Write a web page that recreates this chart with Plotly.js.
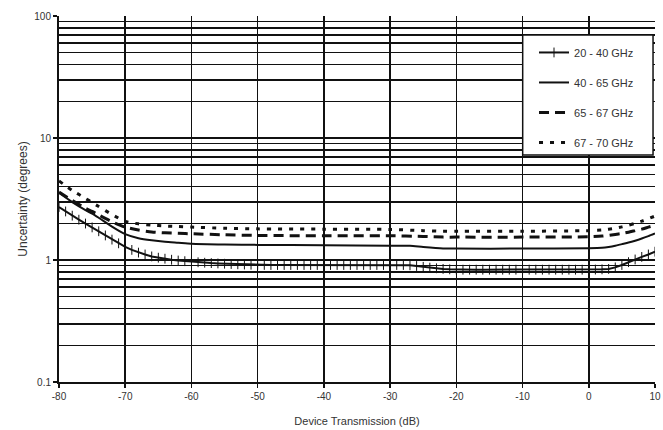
<!DOCTYPE html>
<html>
<head>
<meta charset="utf-8">
<script src="https://cdn.plot.ly/plotly-3.0.1.min.js"></script>
<style>html,body{margin:0;padding:0;background:#fff}#chart{width:663px;height:430px}</style>
</head>
<body>
<div id="chart"></div>
<script>
// Series names
const seriesNames = ["20 - 40 GHz", "40 - 65 GHz", "65 - 67 GHz", "67 - 70 GHz"];

// 20 - 40 GHz: one point per dB (tick-marked line)
const x2040 = [-80,-79,-78,-77,-76,-75,-74,-73,-72,-71,-70,-69,-68,-67,-66,-65,-64,-63,-62,-61,-60,-59,-58,-57,-56,-55,-54,-53,-52,-51,-50,-49,-48,-47,-46,-45,-44,-43,-42,-41,-40,-39,-38,-37,-36,-35,-34,-33,-32,-31,-30,-29,-28,-27,-26,-25,-24,-23,-22,-21,-20,-19,-18,-17,-16,-15,-14,-13,-12,-11,-10,-9,-8,-7,-6,-5,-4,-3,-2,-1,0,1,2,3,4,5,6,7,8,9,10];
const y2040 = [2.72,2.50,2.31,2.14,1.99,1.85,1.72,1.59,1.47,1.37,1.28,1.21,1.15,1.11,1.07,1.045,1.025,1.005,0.99,0.978,0.968,0.958,0.95,0.943,0.937,0.932,0.927,0.922,0.918,0.915,0.912,0.911,0.91,0.91,0.91,0.91,0.91,0.91,0.91,0.91,0.91,0.91,0.91,0.91,0.91,0.91,0.91,0.91,0.91,0.91,0.91,0.91,0.91,0.905,0.893,0.879,0.866,0.855,0.845,0.838,0.834,0.833,0.833,0.833,0.833,0.833,0.833,0.833,0.833,0.833,0.833,0.833,0.833,0.833,0.833,0.833,0.833,0.833,0.833,0.833,0.833,0.835,0.838,0.845,0.87,0.91,0.96,1.01,1.06,1.11,1.17];

// 40 - 65 GHz
const x4065 = [-80,-78,-76,-75,-74,-72,-70,-68,-66,-64,-62,-60,-55,-50,-40,-30,-27,-25,-22,-20,-10,0,2,3,4,5,6,7,8,9,10];
const y4065 = [3.55,2.98,2.56,2.4,2.22,1.88,1.63,1.51,1.45,1.41,1.385,1.36,1.34,1.33,1.32,1.31,1.31,1.28,1.245,1.24,1.24,1.25,1.26,1.28,1.31,1.35,1.39,1.44,1.5,1.57,1.65];

// 65 - 67 GHz
const x6567 = [-80,-78,-76,-75,-74,-72,-70,-68,-66,-64,-62,-60,-55,-50,-40,-30,-25,-22,-20,-10,0,2,4,5,6,7,8,9,10];
const y6567 = [3.6,3.08,2.66,2.5,2.34,2.06,1.86,1.76,1.70,1.67,1.655,1.64,1.61,1.59,1.58,1.58,1.56,1.54,1.54,1.54,1.55,1.57,1.62,1.65,1.69,1.74,1.79,1.86,1.93];

// 67 - 70 GHz
const x6770 = [-80,-78,-76,-75,-74,-72,-70,-68,-66,-64,-62,-60,-55,-50,-40,-30,-25,-22,-20,-10,0,2,4,5,6,7,8,9,10];
const y6770 = [4.45,3.72,3.2,2.96,2.74,2.36,2.07,1.98,1.93,1.90,1.88,1.86,1.82,1.80,1.79,1.78,1.74,1.72,1.72,1.72,1.74,1.76,1.82,1.87,1.93,2.0,2.08,2.18,2.29];

// Axis ticks
const xTicks = [-80,-70,-60,-50,-40,-30,-20,-10,0,10];
const xTickText = ["-80","-70","-60","-50","-40","-30","-20","-10","0","10"];
const yMajor = [0.1, 1, 10, 100];
const yMajorText = ["0.1", "1", "10", "100"];
const yMinor = [0.2,0.3,0.4,0.5,0.6,0.7,0.8,0.9,2,3,4,5,6,7,8,9,20,30,40,50,60,70,80,90];

const FONT = "Arial, 'Liberation Sans', sans-serif";
const black = "#111";

const traces = [
  {x: x2040, y: y2040, name: seriesNames[0], legendgroup: "a", mode: "lines+markers",
   line: {color: black, width: 2},
   marker: {symbol: "line-ns-open", size: 7, color: black, line: {color: black, width: 1}}},
  {x: x4065, y: y4065, name: seriesNames[1], legendgroup: "b", mode: "lines",
   line: {color: black, width: 2, shape: "spline", smoothing: 0.6}},
  {x: x6567, y: y6567, name: seriesNames[2], legendgroup: "c", mode: "lines",
   line: {color: black, width: 3, dash: "10px,6px", shape: "spline", smoothing: 0.6}},
  {x: x6770, y: y6770, name: seriesNames[3], legendgroup: "d", mode: "lines",
   line: {color: black, width: 3, dash: "4px,7px", shape: "spline", smoothing: 0.6}}
];

const layout = {
  width: 663, height: 430,
  margin: {l: 59, r: 8, t: 16, b: 48},
  paper_bgcolor: "#fff", plot_bgcolor: "#fff",
  font: {family: FONT, size: 10, color: "#333"},
  showlegend: true,
  legend: {x: 0.797, xanchor: "left", y: 0.94, yanchor: "top",
           bgcolor: "rgba(0,0,0,0)", borderwidth: 0, tracegroupgap: 11,
           font: {family: FONT, size: 11, color: "#333"}},
  xaxis: {
    range: [-80, 10], tickvals: xTicks, ticktext: xTickText, ticks: "outside", ticklen: 4, tickcolor: black, tickwidth: 1.5,
    showgrid: true, gridcolor: black, gridwidth: 1.5, zeroline: false,
    showline: true, linecolor: black, linewidth: 2,
    tickfont: {family: FONT, size: 10, color: "#333"},
    title: {text: "Device Transmission (dB)", font: {family: FONT, size: 11, color: "#333"}, standoff: 16}
  },
  yaxis: {
    type: "log", range: [-1, 2], tickvals: yMajor, ticktext: yMajorText,
    ticks: "outside", ticklen: 4, tickcolor: black, tickwidth: 1.5,
    showgrid: true, gridcolor: black, gridwidth: 1.5, zeroline: false,
    showline: true, linecolor: black, linewidth: 2,
    minor: {tickvals: yMinor, showgrid: true, gridcolor: black, gridwidth: 1.5, ticks: ""},
    tickfont: {family: FONT, size: 10, color: "#333"},
    title: {text: "Uncertainty (degrees)", font: {family: FONT, size: 12, color: "#333"}, standoff: 4}
  },
  shapes: [{type: "rect", xref: "paper", yref: "paper", x0: 0.778, x1: 0.9967, y0: 0.62, y1: 0.948,
            fillcolor: "#fff", line: {color: black, width: 1.5}, layer: "above"}]
};

Plotly.newPlot("chart", traces, layout, {displayModeBar: false, staticPlot: true});
</script>
</body>
</html>
